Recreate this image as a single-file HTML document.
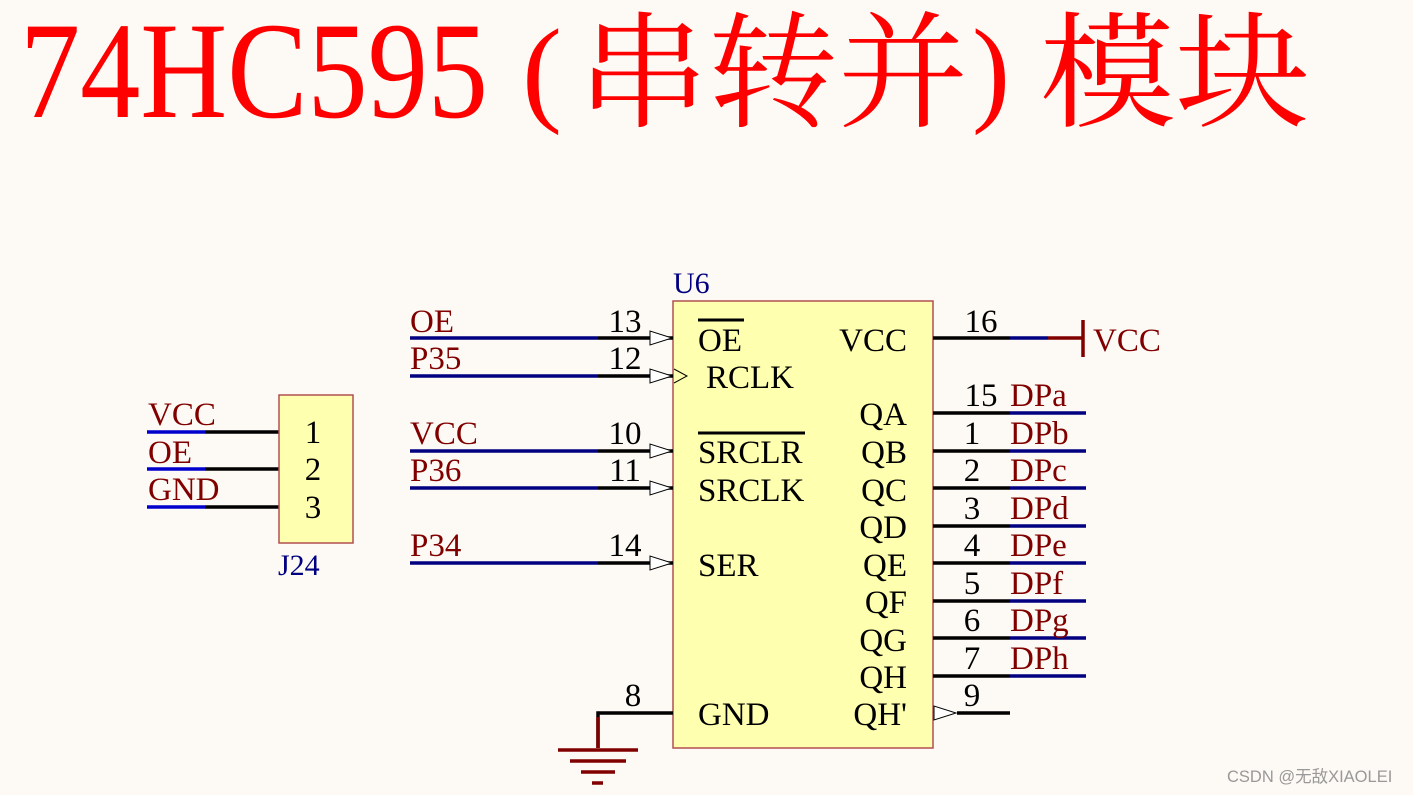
<!DOCTYPE html>
<html><head><meta charset="utf-8"><style>
html,body{margin:0;padding:0;background:#fdfaf5;}
svg{display:block}
text{font-family:"Liberation Serif","Noto Serif CJK SC",serif;}
.cj{font-family:"Noto Serif CJK SC",serif;}
</style></head><body>
<svg width="1413" height="795" viewBox="0 0 1413 795" xmlns="http://www.w3.org/2000/svg">
<rect width="1413" height="795" fill="#fdfaf5"/>
<g fill="#ff0000">
<text x="20" y="117" font-size="138" textLength="468" lengthAdjust="spacingAndGlyphs">74HC595</text>
<text x="522" y="110" font-size="118" textLength="40" lengthAdjust="spacingAndGlyphs">(</text>
<text class="cj" x="578" y="117" font-size="126" textLength="390" lengthAdjust="spacingAndGlyphs">串转并</text>
<text x="972" y="110" font-size="118" textLength="38" lengthAdjust="spacingAndGlyphs">)</text>
<text class="cj" x="1040" y="117" font-size="126" textLength="270" lengthAdjust="spacingAndGlyphs">模块</text>
</g>

<rect x="673" y="301" width="260" height="447" fill="#ffffb0" stroke="#b05050" stroke-width="1.5"/>
<text x="673" y="293" font-size="30" fill="#000080">U6</text>

<g stroke-width="3.5" fill="none">
<g>
<line x1="410" y1="338" x2="598" y2="338" stroke="#000080"/><line x1="598" y1="338" x2="673" y2="338" stroke="#000"/>
<line x1="410" y1="376" x2="598" y2="376" stroke="#000080"/><line x1="598" y1="376" x2="673" y2="376" stroke="#000"/>
<line x1="410" y1="451" x2="598" y2="451" stroke="#000080"/><line x1="598" y1="451" x2="673" y2="451" stroke="#000"/>
<line x1="410" y1="488" x2="598" y2="488" stroke="#000080"/><line x1="598" y1="488" x2="673" y2="488" stroke="#000"/>
<line x1="410" y1="563" x2="598" y2="563" stroke="#000080"/><line x1="598" y1="563" x2="673" y2="563" stroke="#000"/>
</g>
<line x1="933" y1="338" x2="1010" y2="338" stroke="#000"/><line x1="1010" y1="338" x2="1048" y2="338" stroke="#000080"/>
<line x1="1048" y1="338" x2="1083" y2="338" stroke="#800000"/>
<line x1="1083" y1="320" x2="1083" y2="357" stroke="#800000"/>
<g>
<line x1="933" y1="413" x2="1010" y2="413" stroke="#000"/><line x1="1010" y1="413" x2="1086" y2="413" stroke="#000080"/>
<line x1="933" y1="451" x2="1010" y2="451" stroke="#000"/><line x1="1010" y1="451" x2="1086" y2="451" stroke="#000080"/>
<line x1="933" y1="488" x2="1010" y2="488" stroke="#000"/><line x1="1010" y1="488" x2="1086" y2="488" stroke="#000080"/>
<line x1="933" y1="526" x2="1010" y2="526" stroke="#000"/><line x1="1010" y1="526" x2="1086" y2="526" stroke="#000080"/>
<line x1="933" y1="563" x2="1010" y2="563" stroke="#000"/><line x1="1010" y1="563" x2="1086" y2="563" stroke="#000080"/>
<line x1="933" y1="601" x2="1010" y2="601" stroke="#000"/><line x1="1010" y1="601" x2="1086" y2="601" stroke="#000080"/>
<line x1="933" y1="638" x2="1010" y2="638" stroke="#000"/><line x1="1010" y1="638" x2="1086" y2="638" stroke="#000080"/>
<line x1="933" y1="676" x2="1010" y2="676" stroke="#000"/><line x1="1010" y1="676" x2="1086" y2="676" stroke="#000080"/>
<line x1="957" y1="713" x2="1010" y2="713" stroke="#000"/>
</g>
<polyline points="673,713 598,713 598,748" stroke="#000" />
<line x1="598" y1="717" x2="598" y2="748" stroke="#800000"/>
<line x1="558" y1="750" x2="638" y2="750" stroke="#800000"/>
<line x1="570" y1="761" x2="626" y2="761" stroke="#800000"/>
<line x1="581" y1="772" x2="615" y2="772" stroke="#800000"/>
<line x1="592" y1="783" x2="603" y2="783" stroke="#800000"/>
<line x1="147" y1="432" x2="205" y2="432" stroke="#0000cc"/><line x1="205" y1="432" x2="279" y2="432" stroke="#000"/>
<line x1="147" y1="469" x2="205" y2="469" stroke="#0000cc"/><line x1="205" y1="469" x2="279" y2="469" stroke="#000"/>
<line x1="147" y1="507" x2="205" y2="507" stroke="#0000cc"/><line x1="205" y1="507" x2="279" y2="507" stroke="#000"/>
</g>
<g fill="#fff" stroke="#000" stroke-width="1">
<polygon points="650,331 650,345 672,338"/>
<polygon points="650,369 650,383 672,376"/>
<polygon points="650,444 650,458 672,451"/>
<polygon points="650,481 650,495 672,488"/>
<polygon points="650,556 650,570 672,563"/>
<polygon points="934,706 934,720 956,713"/>
</g>
<polyline points="674,369 687,376 674,383" fill="none" stroke="#000" stroke-width="1"/>
<rect x="279" y="395" width="74" height="148" fill="#ffffb0" stroke="#b05050" stroke-width="1.5"/>

<g font-size="33" fill="#800000">
<text x="410" y="332">OE</text><text x="410" y="369">P35</text><text x="410" y="444">VCC</text>
<text x="410" y="481">P36</text><text x="410" y="556">P34</text>
<text x="148" y="425">VCC</text><text x="148" y="463">OE</text><text x="148" y="500">GND</text>
<text x="1093" y="351">VCC</text>
<text x="1010" y="406">DPa</text><text x="1010" y="444">DPb</text><text x="1010" y="481">DPc</text>
<text x="1010" y="519">DPd</text><text x="1010" y="556">DPe</text><text x="1010" y="594">DPf</text>
<text x="1010" y="631">DPg</text><text x="1010" y="669">DPh</text>
</g>
<g font-size="33" fill="#000" text-anchor="middle">
<text x="625" y="332">13</text><text x="625" y="369">12</text><text x="625" y="444">10</text>
<text x="625" y="481">11</text><text x="625" y="556">14</text><text x="633" y="706">8</text>
<text x="981" y="332">16</text><text x="981" y="406">15</text><text x="972" y="444">1</text>
<text x="972" y="481">2</text><text x="972" y="519">3</text><text x="972" y="556">4</text>
<text x="972" y="594">5</text><text x="972" y="631">6</text><text x="972" y="669">7</text>
<text x="972" y="706">9</text>
<text x="313" y="443">1</text><text x="313" y="480">2</text><text x="313" y="518">3</text>
</g>
<g font-size="33" fill="#000">
<text x="698" y="351">OE</text><text x="706" y="388">RCLK</text><text x="698" y="463">SRCLR</text>
<text x="698" y="501">SRCLK</text><text x="698" y="576">SER</text><text x="698" y="725">GND</text>
</g>
<line x1="698" y1="320" x2="744" y2="320" stroke="#000" stroke-width="3"/>
<line x1="698" y1="433" x2="805" y2="433" stroke="#000" stroke-width="3"/>
<g font-size="33" fill="#000" text-anchor="end">
<text x="907" y="351">VCC</text><text x="907" y="425">QA</text><text x="907" y="463">QB</text>
<text x="907" y="501">QC</text><text x="907" y="538">QD</text><text x="907" y="576">QE</text>
<text x="907" y="613">QF</text><text x="907" y="651">QG</text><text x="907" y="688">QH</text>
<text x="907" y="725">QH'</text>
</g>
<text x="278" y="575" font-size="30" fill="#000080">J24</text>
<text x="1227" y="782" font-size="16.5" fill="#999" style='font-family:"Liberation Sans","Noto Sans CJK SC",sans-serif'>CSDN @无敌XIAOLEI</text>
</svg>
</body></html>
